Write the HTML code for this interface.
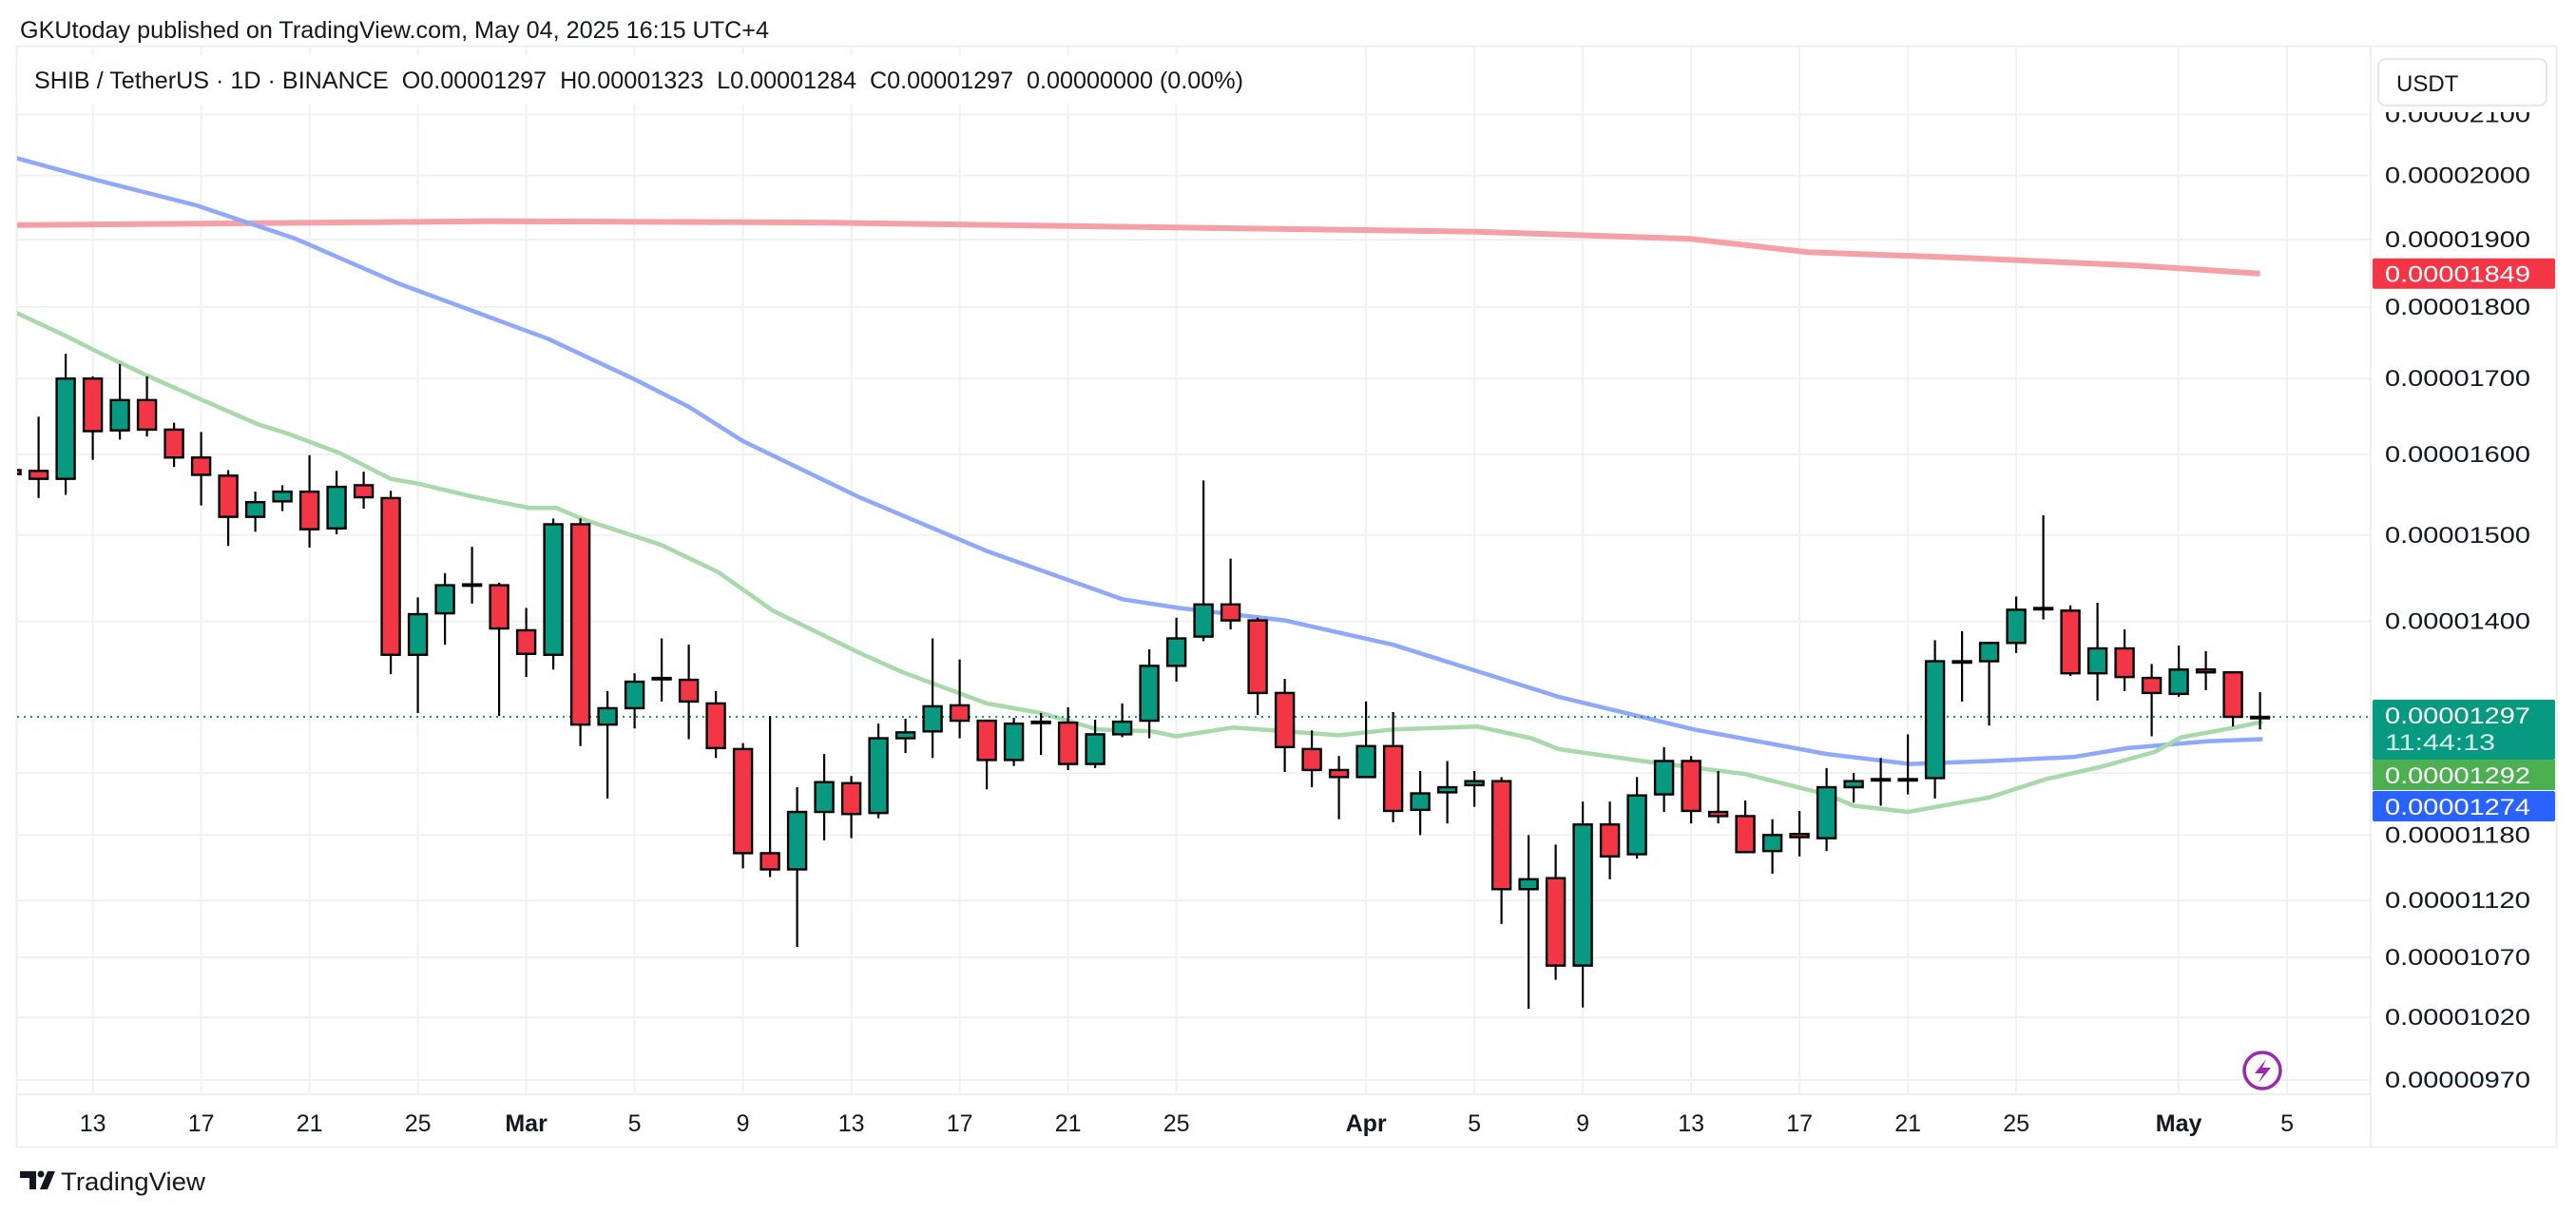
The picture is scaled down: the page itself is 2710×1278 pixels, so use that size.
<!DOCTYPE html>
<html><head><meta charset="utf-8"><title>SHIB / TetherUS 1D chart</title>
<style>
html,body{margin:0;padding:0;background:#fff;}
svg{display:block;font-family:"Liberation Sans",sans-serif;}
</style></head>
<body>
<svg id="chart" width="2710" height="1278" viewBox="0 0 2710 1278" xmlns="http://www.w3.org/2000/svg">
<rect x="0" y="0" width="2710" height="1278" fill="#ffffff"/>
<text x="21" y="40" font-size="25" fill="#131722" textLength="788" lengthAdjust="spacingAndGlyphs">GKUtoday published on TradingView.com, May 04, 2025 16:15 UTC+4</text>
<rect x="17.5" y="48.5" width="2672" height="1158" fill="none" stroke="#eeeeee" stroke-width="2"/>
<g id="grid"></g>
<g id="plot"></g>
<line x1="2494" y1="49" x2="2494" y2="1206" stroke="#eeeeee" stroke-width="2"/>
<line x1="18" y1="1151" x2="2494" y2="1151" stroke="#eeeeee" stroke-width="2"/>
<g id="yaxis"></g>
<g id="xaxis"></g>
<rect x="18" y="58" width="1330" height="52" fill="#ffffff"/>
<text x="36" y="93" font-size="25" fill="#131722" textLength="1272" lengthAdjust="spacingAndGlyphs" style="white-space:pre">SHIB / TetherUS · 1D · BINANCE  O0.00001297  H0.00001323  L0.00001284  C0.00001297  0.00000000 (0.00%)</text>
<rect x="2496" y="50" width="192" height="68" fill="#ffffff"/>
<g>
<rect x="2502" y="62" width="177" height="49" rx="8" fill="#ffffff" stroke="#e6e6e6" stroke-width="2"/>
<text x="2521" y="96" font-size="24" fill="#131722">USDT</text>
</g>
<g id="tags"></g>
<g>
<circle cx="2380" cy="1126" r="19" fill="#ffffff" stroke="#9c27b0" stroke-width="3.5"/>
<path d="M2384 1114 L2372 1129 L2381 1129 L2376 1139 L2389 1123 L2380 1123 Z" fill="#9c27b0"/>
</g>
<g>
<path d="M21 1232 H38 V1251 H31 V1239 H21 Z" fill="#131722"/>
<circle cx="43" cy="1235" r="3.5" fill="#131722"/>
<path d="M50 1232 H58 L50 1251 H42 Z" fill="#131722"/>
<text x="64" y="1252" font-size="27" fill="#131722" textLength="152" lengthAdjust="spacingAndGlyphs">TradingView</text>
</g>
</svg>
<script>
// ---- data (prices in units of 1e-8 USDT) ----
var days   = [-3,-2,-1,0,1,2,3,4,5,6,7,8,9,10,11,12,13,14,15,16,17,18,19,20,21,22,23,24,25,26,27,28,29,30,31,32,33,34,35,36,37,38,39,40,41,42,43,44,45,46,47,48,49,50,51,52,53,54,55,56,57,58,59,60,61,62,63,64,65,66,67,68,69,70,71,72,73,74,75,76,77,78,79,80];
var opens  = [1580,1579,1569,1700,1631,1671,1632,1596,1573,1522,1541,1553,1508,1561,1545,1363,1409,1442,1441,1390,1363,1513,1289,1306,1338,1336,1311,1264,1163,1148,1202,1230,1201,1275,1282,1309,1293,1253,1292,1291,1249,1279,1293,1351,1383,1419,1401,1322,1264,1243,1236,1267,1204,1221,1228,1232,1130,1140,1063,1190,1162,1219,1252,1202,1198,1165,1181,1177,1226,1234,1234,1235,1356,1356,1376,1415,1412,1343,1370,1338,1321,1347,1344,1297];
var highs  = [1590,1649,1734,1703,1720,1703,1641,1629,1580,1553,1561,1599,1579,1578,1554,1427,1455,1486,1444,1415,1520,1520,1324,1343,1381,1374,1324,1270,1298,1226,1259,1237,1290,1295,1381,1358,1294,1296,1301,1307,1294,1311,1369,1404,1567,1472,1404,1337,1283,1257,1313,1302,1242,1252,1242,1236,1180,1171,1212,1212,1236,1266,1257,1242,1213,1195,1203,1245,1240,1255,1279,1379,1389,1376,1428,1524,1418,1421,1391,1353,1373,1367,1345,1323];
var lows   = [1565,1545,1549,1593,1619,1623,1584,1536,1487,1504,1529,1485,1501,1532,1342,1301,1374,1420,1298,1339,1347,1267,1215,1285,1313,1274,1255,1149,1141,1079,1175,1177,1196,1260,1255,1275,1224,1247,1258,1243,1245,1276,1275,1334,1378,1391,1299,1241,1226,1195,1236,1192,1180,1191,1207,1099,1027,1051,1028,1139,1158,1202,1191,1191,1163,1144,1160,1165,1211,1208,1219,1215,1313,1288,1365,1402,1340,1314,1324,1277,1318,1325,1287,1284];
var closes = [1575,1569,1700,1630,1671,1632,1596,1574,1522,1540,1553,1507,1559,1546,1363,1408,1441,1442,1392,1364,1513,1289,1306,1334,1337,1313,1265,1163,1148,1202,1231,1200,1275,1281,1308,1293,1253,1290,1292,1249,1279,1292,1351,1381,1419,1401,1322,1266,1243,1236,1267,1203,1220,1226,1232,1130,1139,1063,1190,1160,1218,1252,1203,1198,1164,1180,1178,1226,1232,1234,1234,1356,1356,1376,1413,1415,1343,1370,1339,1322,1347,1344,1297,1297];

var maRedDays    = [-3,14.8,26.9,39,51.1,59,63.3,69.3,75.4,80];
var maRedVals    = [1922,1928,1926,1919,1912,1901,1881,1872,1861,1849];
var maBlueDays   = [-3,0.2,3.8,7.5,11.3,16.8,20,22,24,28.3,33,38,40.1,44,48,54.1,59.1,64,67.1,70,73.1,75.1,78.1,80.1];
var maBlueVals   = [2030,1992,1953,1901,1834,1755,1699,1662,1617,1546,1481,1425,1415,1401,1374,1318,1284,1259,1249,1252,1256,1265,1272,1274];
var maGreenDays  = [-3,-1,0,2,4.05,6.1,7.1,9.1,11,12,14,16.1,17.1,18.1,21,23.1,25.1,28.3,29.9,33,35,37.1,39.1,40,42.1,46,48,51.1,53.1,54.1,57.2,61,64,65,67,70,72.1,74.1,76.1,77.1,79.1,80.1];
var maGreenVals  = [1795,1759,1740,1704,1671,1639,1628,1602,1569,1563,1547,1533,1533,1519,1488,1456,1412,1365,1344,1311,1301,1284,1282,1277,1286,1278,1284,1287,1275,1264,1252,1239,1219,1208,1202,1216,1234,1246,1261,1276,1286,1292];

var priceTicks   = [2100,2000,1900,1800,1700,1600,1500,1400,1240,1180,1120,1070,1020,970];
var priceLabels  = ["0.00002100","0.00002000","0.00001900","0.00001800","0.00001700","0.00001600","0.00001500","0.00001400","0.00001240","0.00001180","0.00001120","0.00001070","0.00001020","0.00000970"];
var timeTickDays = [0,4,8,12,16,20,24,28,32,36,40,47,51,55,59,63,67,71,77,81];
var timeLabels   = ["13","17","21","25","Mar","5","9","13","17","21","25","Apr","5","9","13","17","21","25","May","5"];
var lastPrice = 1297, lastLabel = "0.00001297", countdown = "11:44:13";
var greenMaLabel = "0.00001292", blueMaLabel = "0.00001274", redMaLabel = "0.00001849";

// ---- axes ----
function xOf(d){ return 97.6 + d*28.5; }
function yOf(v){ return 184.5 + (Math.log(2000) - Math.log(v))*1315; }
var NS = "http://www.w3.org/2000/svg";
function mk(tag, attrs, parent){ var e=document.createElementNS(NS,tag); for(var k in attrs){ e.setAttribute(k, attrs[k]); } parent.appendChild(e); return e; }

var grid=document.getElementById('grid'), plot=document.getElementById('plot');
var yaxis=document.getElementById('yaxis'), xaxis=document.getElementById('xaxis'), tags=document.getElementById('tags');
var defs=mk('defs',{},document.getElementById('chart'));
var cp=mk('clipPath',{id:'pclip'},defs); mk('rect',{x:18,y:49,width:2476,height:1102},cp);
plot.setAttribute('clip-path','url(#pclip)');

for (var i=0;i<priceTicks.length;i++){
  var y=yOf(priceTicks[i]);
  var gl=mk('line',{x1:18,x2:2494,y1:y,y2:y,stroke:'#f0f1f3','stroke-width':2},grid);
  
  
  var tl=mk('text',{x:2509,y:y+8,'font-size':24,fill:'#131722',textLength:153,lengthAdjust:'spacingAndGlyphs'},yaxis);
  tl.textContent=priceLabels[i];
  
  
}
for (var i=0;i<timeTickDays.length;i++){
  var x=xOf(timeTickDays[i]);
  if (x<2494){
    var vl=mk('line',{x1:x,x2:x,y1:49,y2:1151,stroke:'#f0f1f3','stroke-width':2},grid);
    
    
  }
  var bold = isNaN(parseInt(timeLabels[i]));
  var xl=mk('text',{x:x,y:1190,'font-size':25,fill:'#131722','text-anchor':'middle','font-weight':bold?'bold':'normal'},xaxis);
  xl.textContent=timeLabels[i];
  
  
}

function maPath(ds, vs){ var s=''; for (var i=0;i<ds.length;i++){ s+=(i?'L':'M')+xOf(ds[i]).toFixed(1)+' '+yOf(vs[i]).toFixed(1); } return s; }
var mr=mk('path',{d:maPath(maRedDays,maRedVals),fill:'none',stroke:'#f5a0a6','stroke-width':6,'stroke-linejoin':'round'},plot);


var mb=mk('path',{d:maPath(maBlueDays,maBlueVals),fill:'none',stroke:'#90a8fa','stroke-width':4.5,'stroke-linejoin':'round'},plot);


var mg=mk('path',{d:maPath(maGreenDays,maGreenVals),fill:'none',stroke:'#a8d9aa','stroke-width':4.5,'stroke-linejoin':'round'},plot);



var ly=yOf(lastPrice);
var pl=mk('line',{x1:18,x2:2494,y1:ly,y2:ly,stroke:'#089981','stroke-width':2,'stroke-dasharray':'2 5'},plot);



for (var i=0;i<days.length;i++){
  var x=xOf(days[i]), o=opens[i], c=closes[i];
  var up=c>=o;
  var g=mk('g',{},plot);
  
  
  mk('line',{x1:x,x2:x,y1:yOf(highs[i]),y2:yOf(lows[i]),stroke:'#000','stroke-width':2.2},g);
  var yt=yOf(Math.max(o,c)), yb=yOf(Math.min(o,c)), h=Math.max(yb-yt,1.5);
  mk('rect',{x:x-9.5,y:yt,width:19,height:h,fill:up?'#089981':'#f23645',stroke:'#000','stroke-width':2.4},g);
}

function tag(v,label,color,h,name,extra){
  var y=yOf(v);
  var g=mk('g',{},tags);
  
  
  var top = extra ? y-18 : y-h/2;
  mk('rect',{x:2496,y:top,width:192,height:h,fill:color,rx:2},g);
  var t=mk('text',{x:2509,y:top+25,'font-size':24,fill:'#fff',textLength:153,lengthAdjust:'spacingAndGlyphs'},g);
  t.textContent=label;
  if (extra){ var t2=mk('text',{x:2509,y:top+53,'font-size':24,fill:'#d6f0ea',textLength:116,lengthAdjust:'spacingAndGlyphs'},g); t2.textContent=extra; }
}
tag(1849, redMaLabel, '#f23645', 32, 'ma-200-price-tag');
tag(lastPrice, lastLabel, '#089981', 63, 'last-price-tag', countdown);
var gy=yOf(lastPrice)-18+63;
var g2=mk('g',{},tags);


mk('rect',{x:2496,y:gy,width:192,height:32,fill:'#4caf50'},g2);
var t3=mk('text',{x:2509,y:gy+25,'font-size':24,fill:'#fff',textLength:153,lengthAdjust:'spacingAndGlyphs'},g2); t3.textContent=greenMaLabel;
var g3=mk('g',{},tags);


mk('rect',{x:2496,y:gy+33,width:192,height:32,fill:'#2962ff',rx:2},g3);
var t4=mk('text',{x:2509,y:gy+58,'font-size':24,fill:'#fff',textLength:153,lengthAdjust:'spacingAndGlyphs'},g3); t4.textContent=blueMaLabel;
</script>
</body></html>
